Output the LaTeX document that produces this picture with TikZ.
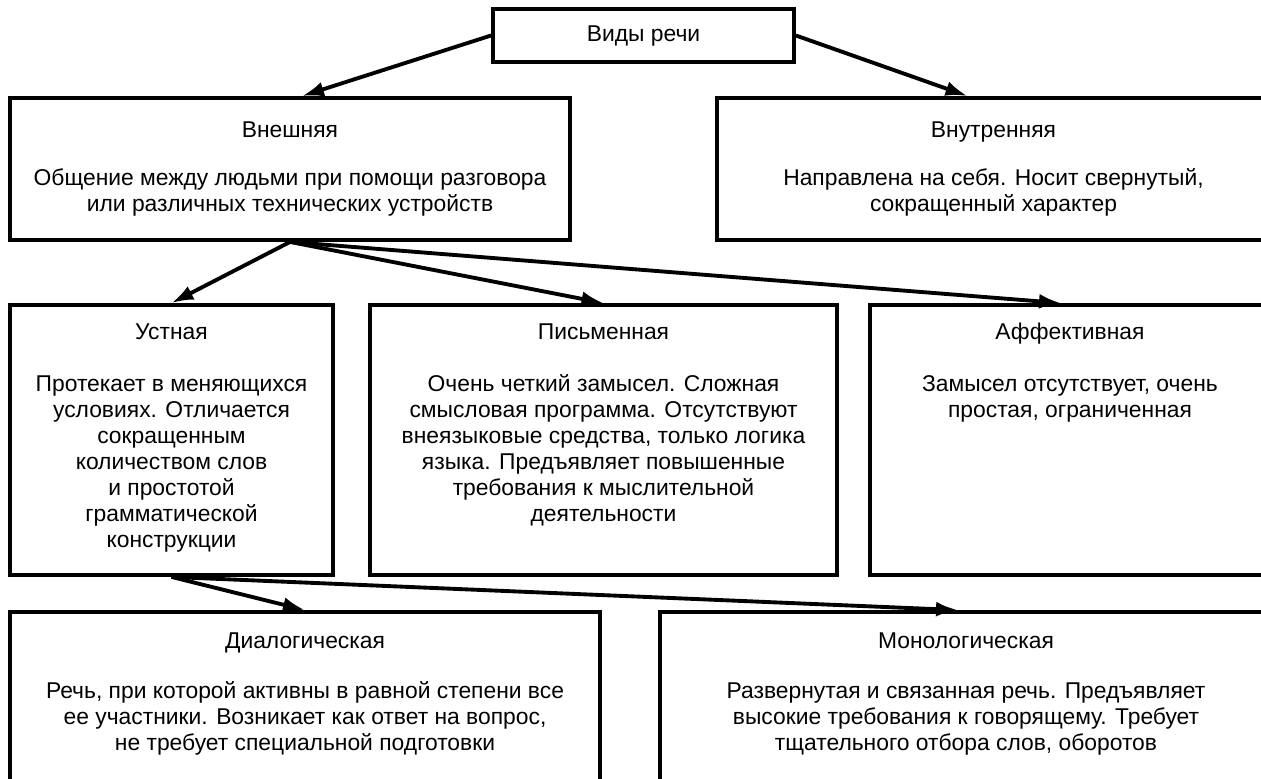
\documentclass[tikz,border=0pt]{standalone}
\usepackage{fontspec}
\setmainfont{Liberation Sans}
\usetikzlibrary{arrows.meta,fit}

\begin{document}
\begin{tikzpicture}[x=0.02cm, y=-0.02cm,
        box/.style={draw, line width=2.2pt, inner sep=0pt},
        txt/.style={anchor=north, align=center, inner sep=0pt, font=\fontsize{13pt}{14.8pt}\selectfont},
        arr/.style={line width=2.2pt, -{Latex[length=0.44cm, width=0.3cm]}}]
        \useasboundingbox (0,0) rectangle (1261,778);
        \clip (0,0) rectangle (1261,778);

        \node[box, fit={(493,9) (794,62)}] (vidy) {};
        \node[box, fit={(10,98) (570,240)}] (vnesh) {};
        \node[box, fit={(717,98) (1270,240)}] (vnutr) {};
        \node[box, fit={(10,305) (333,575)}] (ustn) {};
        \node[box, fit={(370,305) (837,575)}] (pism) {};
        \node[box, fit={(870,305) (1270,575)}] (affekt) {};
        \node[box, fit={(10,612) (600,800)}] (dialog) {};
        \node[box, fit={(660,612) (1272,800)}] (monolog) {};

        \node[txt] (vidy-t) at ([yshift=-0.36cm]vidy.north) {Виды речи};
        \node[txt] (vnesh-t) at ([yshift=-0.5cm]vnesh.north) {Внешняя\\[0.44cm]
                Общение между людьми при помощи разговора\\или различных технических устройств};
        \node[txt] (vnutr-t) at ([yshift=-0.5cm]vnutr.north) {Внутренняя\\[0.44cm]
                Направлена на себя. Носит свернутый,\\сокращенный характер};
        \node[txt] (ustn-t) at ([yshift=-0.4cm]ustn.north) {Устная\\[0.52cm]
                Протекает в меняющихся\\условиях. Отличается\\сокращенным\\количеством слов\\и простотой\\грамматической\\конструкции};
        \node[txt] (pism-t) at ([yshift=-0.4cm]pism.north) {Письменная\\[0.52cm]
                Очень четкий замысел. Сложная\\смысловая программа. Отсутствуют\\внеязыковые средства, только логика\\языка. Предъявляет повышенные\\требования к мыслительной\\деятельности};
        \node[txt] (affekt-t) at ([yshift=-0.4cm]affekt.north) {Аффективная\\[0.52cm]
                Замысел отсутствует, очень\\простая, ограниченная};
        \node[txt] (dialog-t) at ([yshift=-0.44cm]dialog.north) {Диалогическая\\[0.48cm]
                Речь, при которой активны в равной степени все\\ее участники. Возникает как ответ на вопрос,\\не требует специальной подготовки};
        \node[txt] (monolog-t) at ([yshift=-0.44cm]monolog.north) {Монологическая\\[0.48cm]
                Развернутая и связанная речь. Предъявляет\\высокие требования к говорящему. Требует\\тщательного отбора слов, оборотов};

        \draw[arr] (vidy.west) -- ([xshift=0.24cm]vnesh.north);
        \draw[arr] (vidy.east) -- ([xshift=-0.52cm]vnutr.north);
        \draw[arr] (vnesh.south) -- (ustn.north);
        \draw[arr] (vnesh.south) -- (pism.north);
        \draw[arr] (vnesh.south) -- ([xshift=-0.18cm]affekt.north);
        \draw[arr] (ustn.south) -- (dialog.north);
        \draw[arr] (ustn.south) -- ([xshift=-0.16cm]monolog.north);
\end{tikzpicture}
\end{document}
